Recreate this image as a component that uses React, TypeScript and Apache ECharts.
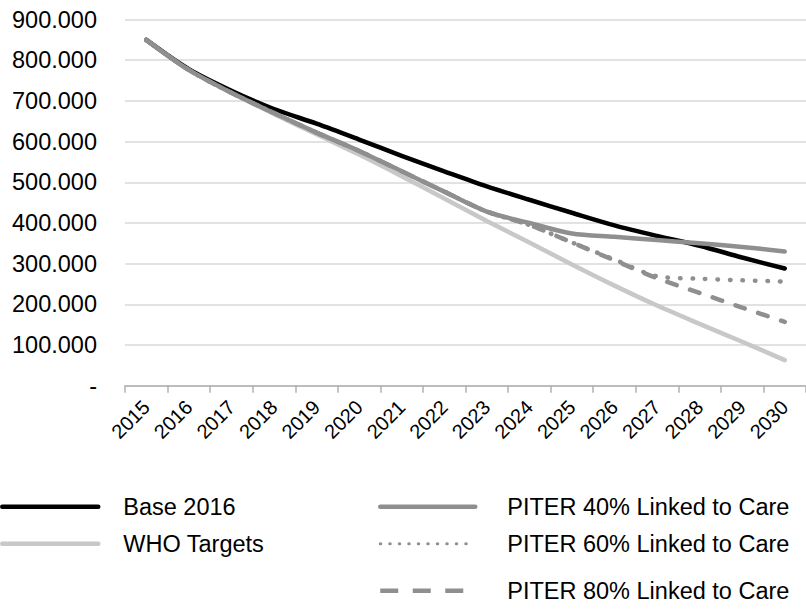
import React, { useEffect, useRef } from "react";
import * as echarts from "echarts";

const years = ["2015","2016","2017","2018","2019","2020","2021","2022","2023","2024","2025","2026","2027","2028","2029","2030"];
const base2016 = [850000, 778000, 725000, 680000, 644000, 605000, 565000, 527000, 490000, 457000, 425000, 394000, 368000, 344000, 315000, 288000];
const whoTargets = [850000, 776000, 720000, 668000, 618000, 568000, 515000, 460000, 405000, 352000, 298000, 246000, 197000, 152000, 108000, 63000];
const piter40 = [850000, 776000, 720000, 670000, 622000, 577000, 527000, 477000, 428000, 400000, 374000, 366000, 358000, 350000, 341000, 330000];
const piter60 = [850000, 776000, 720000, 670000, 622000, 577000, 527000, 477000, 428000, 395000, 352000, 310000, 269000, 263000, 259000, 256000];
const piter80 = [850000, 776000, 720000, 670000, 622000, 577000, 527000, 477000, 428000, 395000, 352000, 308000, 264000, 228000, 192000, 157000];

const FONT = "'Liberation Sans', Arial, sans-serif";
const GRAY = "#8f8f8f";
const LIGHT = "#c8c8c8";

function fmt(v: number): string {
  if (v === 0) return "-";
  const s = String(Math.round(v));
  return s.replace(/\B(?=(\d{3})+(?!\d))/g, ".");
}

export default function App() {
  const ref = useRef<HTMLDivElement>(null);
  useEffect(() => {
    if (!ref.current) return;
    const chart = echarts.init(ref.current, undefined, { renderer: "svg" });
    const W = 4.5;
    const legendCommon = {
      orient: "vertical",
      padding: 0,
      itemHeight: 24,
      itemGap: 13,
      itemStyle: { opacity: 0 },
      lineStyle: { width: W },
    };
    chart.setOption({
      animation: false,
      backgroundColor: "#ffffff",
      textStyle: { fontFamily: FONT },
      grid: { left: 125, right: -10.5, top: 19.5, bottom: 224.3, containLabel: false },
      xAxis: {
        type: "category",
        data: years,
        boundaryGap: true,
        axisLine: { lineStyle: { color: "#b0b0b0", width: 1.5 } },
        axisTick: { show: true, length: 7, lineStyle: { color: "#b0b0b0", width: 1.5 } },
        axisLabel: { rotate: 45, margin: 18, fontSize: 20, color: "#000", fontFamily: FONT, interval: 0 },
        splitLine: { show: false },
      },
      yAxis: {
        type: "value",
        min: 0,
        max: 900000,
        interval: 100000,
        axisLine: { show: false },
        axisTick: { show: false },
        axisLabel: { margin: 28, fontSize: 23.5, color: "#000", fontFamily: FONT, formatter: (v: number) => fmt(v) },
        splitLine: { lineStyle: { color: "#d9d9d9", width: 1.5 } },
      },
      legend: [
        {
          ...legendCommon,
          left: 0,
          top: 494.7,
          itemWidth: 96,
          textStyle: { fontSize: 23.5, color: "#000", fontFamily: FONT, padding: [0, 0, 0, 20] },
          data: ["Base 2016", "WHO Targets"],
        },
        {
          ...legendCommon,
          left: 378,
          top: 494.7,
          itemWidth: 95,
          textStyle: { fontSize: 23.5, color: "#000", fontFamily: FONT, padding: [0, 0, 0, 27] },
          data: [
            "PITER 40% Linked to Care",
            { name: "PITER 60% Linked to Care", lineStyle: { width: 3, type: [0.5, 9], cap: "round" } },
          ],
        },
        {
          ...legendCommon,
          left: 378,
          top: 578.7,
          itemWidth: 95,
          textStyle: { fontSize: 23.5, color: "#000", fontFamily: FONT, padding: [0, 0, 0, 27] },
          data: [
            { name: "PITER 80% Linked to Care", lineStyle: { width: W, type: [18, 14.5], cap: "butt" } },
          ],
        },
      ],
      series: [
        {
          name: "WHO Targets",
          type: "line",
          data: whoTargets,
          symbol: "none",
          smooth: 0.3,
          lineStyle: { color: LIGHT, width: W, cap: "round" },
          itemStyle: { color: LIGHT },
          z: 2,
        },
        {
          name: "Base 2016",
          type: "line",
          data: base2016,
          symbol: "none",
          smooth: 0.3,
          lineStyle: { color: "#000", width: W, cap: "round" },
          itemStyle: { color: "#000" },
          z: 3,
        },
        {
          name: "PITER 40% Linked to Care",
          type: "line",
          data: piter40,
          symbol: "none",
          smooth: 0.3,
          lineStyle: { color: GRAY, width: W, cap: "round" },
          itemStyle: { color: GRAY },
          z: 4,
        },
        {
          name: "PITER 60% Linked to Care",
          type: "line",
          data: piter60,
          symbol: "none",
          smooth: 0.3,
          lineStyle: { color: GRAY, width: W, type: [0.5, 12], cap: "round" },
          itemStyle: { color: GRAY },
          z: 5,
        },
        {
          name: "PITER 80% Linked to Care",
          type: "line",
          data: piter80,
          symbol: "none",
          smooth: 0.3,
          lineStyle: { color: GRAY, width: W, type: [10, 14], cap: "round" },
          itemStyle: { color: GRAY },
          z: 6,
        },
      ],
    });
    return () => chart.dispose();
  }, []);
  return (
    <div
      ref={ref}
      style={{ position: "fixed", left: 0, top: 0, width: 806, height: 610, background: "#fff" }}
    />
  );
}
